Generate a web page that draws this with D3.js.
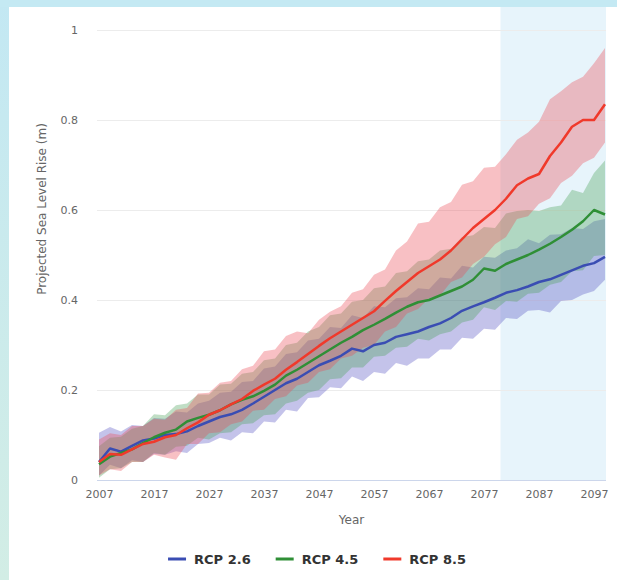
<!DOCTYPE html>
<html>
<head>
<meta charset="utf-8">
<script src="https://cdn.jsdelivr.net/npm/d3@7"></script>
<style>
  html, body { margin: 0; padding: 0; background: #fff; }
  svg { display: block; }
</style>
</head>
<body>
<div id="chart"></div>
<script>
"use strict";

// years, every second year
const years = d3.range(2007, 2100, 2);
const xTicks = [2007, 2017, 2027, 2037, 2047, 2057, 2067, 2077, 2087, 2097];
const yTicks = [0, 0.2, 0.4, 0.6, 0.8, 1];
const plotBand = [2080, 2099];

const rcp26 = [0.040,0.070,0.063,0.076,0.088,0.092,0.100,0.102,0.108,0.120,0.130,0.140,0.146,0.156,0.170,0.185,0.200,0.215,0.225,0.240,0.255,0.265,0.276,0.292,0.286,0.300,0.305,0.318,0.324,0.330,0.340,0.348,0.360,0.376,0.386,0.395,0.405,0.416,0.422,0.430,0.440,0.446,0.456,0.466,0.476,0.482,0.496];
const rcp26Hi = [0.105,0.118,0.108,0.122,0.120,0.138,0.136,0.152,0.150,0.170,0.176,0.194,0.196,0.218,0.220,0.248,0.252,0.280,0.284,0.310,0.314,0.340,0.338,0.366,0.360,0.386,0.384,0.404,0.406,0.426,0.424,0.450,0.448,0.476,0.472,0.496,0.494,0.510,0.515,0.535,0.526,0.545,0.546,0.560,0.558,0.575,0.580];
const rcp26Lo = [0.010,0.034,0.026,0.044,0.040,0.058,0.056,0.064,0.060,0.080,0.082,0.094,0.088,0.106,0.104,0.130,0.128,0.156,0.152,0.182,0.184,0.206,0.204,0.230,0.220,0.240,0.236,0.260,0.254,0.270,0.270,0.290,0.290,0.316,0.314,0.336,0.334,0.360,0.358,0.376,0.378,0.372,0.398,0.400,0.412,0.420,0.445];

const rcp45 = [0.035,0.052,0.060,0.068,0.082,0.095,0.105,0.112,0.130,0.138,0.145,0.155,0.168,0.178,0.186,0.198,0.212,0.232,0.245,0.260,0.275,0.290,0.305,0.318,0.333,0.345,0.358,0.372,0.385,0.395,0.400,0.410,0.420,0.430,0.445,0.470,0.465,0.480,0.490,0.500,0.512,0.525,0.540,0.556,0.575,0.600,0.590];
const rcp45Hi = [0.075,0.094,0.096,0.114,0.120,0.146,0.144,0.166,0.170,0.190,0.190,0.212,0.214,0.236,0.240,0.266,0.270,0.300,0.305,0.330,0.340,0.366,0.370,0.396,0.400,0.426,0.430,0.460,0.464,0.486,0.490,0.510,0.514,0.540,0.544,0.562,0.560,0.592,0.598,0.600,0.598,0.606,0.610,0.645,0.638,0.682,0.710];
const rcp45Lo = [0.005,0.024,0.026,0.040,0.040,0.060,0.056,0.074,0.076,0.094,0.090,0.104,0.106,0.124,0.126,0.144,0.146,0.170,0.176,0.194,0.200,0.224,0.226,0.250,0.250,0.274,0.276,0.294,0.296,0.314,0.310,0.324,0.330,0.350,0.356,0.384,0.378,0.398,0.396,0.414,0.416,0.434,0.440,0.464,0.466,0.498,0.500];

const rcp85 = [0.040,0.058,0.056,0.068,0.080,0.085,0.095,0.100,0.115,0.128,0.145,0.155,0.168,0.180,0.198,0.212,0.225,0.245,0.262,0.280,0.298,0.315,0.330,0.345,0.360,0.375,0.398,0.420,0.440,0.460,0.475,0.490,0.510,0.535,0.560,0.580,0.600,0.625,0.655,0.670,0.680,0.720,0.750,0.785,0.800,0.800,0.835];
const rcp85Hi = [0.090,0.104,0.100,0.120,0.120,0.136,0.134,0.156,0.160,0.192,0.194,0.216,0.220,0.246,0.254,0.286,0.290,0.320,0.330,0.326,0.356,0.374,0.386,0.416,0.424,0.456,0.468,0.510,0.530,0.570,0.574,0.606,0.618,0.656,0.664,0.694,0.696,0.724,0.756,0.772,0.796,0.846,0.864,0.884,0.896,0.926,0.960];
const rcp85Lo = [0.010,0.024,0.020,0.040,0.040,0.056,0.050,0.045,0.080,0.080,0.104,0.106,0.124,0.130,0.154,0.156,0.180,0.186,0.210,0.216,0.240,0.246,0.270,0.276,0.294,0.300,0.330,0.340,0.370,0.380,0.404,0.410,0.440,0.450,0.480,0.496,0.524,0.540,0.580,0.586,0.614,0.626,0.660,0.676,0.704,0.716,0.750];

const seriesNames = ["RCP 2.6", "RCP 4.5", "RCP 8.5"];
const lineColors = ["#3a4db3", "#2f8f36", "#f0392b"];
const bandColors = ["#5552c4", "#4aa05a", "#ec4a55"];

const W = 617, H = 580;

const svg = d3.select("#chart").append("svg")
  .attr("width", W)
  .attr("height", H)
  .style("font-family", "'DejaVu Sans', sans-serif");

// frame round the white panel
const defs = svg.append("defs");
const grad = defs.append("linearGradient")
  .attr("id", "sideGrad")
  .attr("x1", 0).attr("y1", 0).attr("x2", 0).attr("y2", 1);
grad.append("stop").attr("offset", "0%").attr("stop-color", "#c3e8f3");
grad.append("stop").attr("offset", "100%").attr("stop-color", "#d2ede5");
svg.append("rect").attr("width", W).attr("height", H).attr("fill", "#fff");
svg.append("rect").attr("x", 0).attr("y", 0).attr("width", 9).attr("height", H).attr("fill", "url(#sideGrad)");
svg.append("rect").attr("x", 0).attr("y", 0).attr("width", W).attr("height", 7).attr("fill", "#c4e9f3");

const x = d3.scaleLinear()
  .domain([2007, 2099])
  .range([99, 605]);
const y = d3.scaleLinear()
  .domain([0, 1])
  .range([480, 30]);

const plotLeft = 97, plotRight = 606;

// plot band
svg.append("rect")
  .attr("x", x(plotBand[0]))
  .attr("y", 7)
  .attr("width", plotRight - x(plotBand[0]))
  .attr("height", y(0) - 7)
  .attr("fill", "#e7f4fb");

// grid lines
svg.append("g")
  .selectAll("line")
  .data(yTicks.filter(d => d > 0))
  .join("line")
  .attr("x1", plotLeft)
  .attr("x2", plotRight)
  .attr("y1", d => y(d) + 0.5)
  .attr("y2", d => y(d) + 0.5)
  .attr("stroke", "#ececec")
  .attr("stroke-width", 1);

// y axis labels
const yAxis = d3.axisLeft(y)
  .tickValues(yTicks)
  .tickFormat(d3.format("~g"))
  .tickSize(0)
  .tickPadding(0);
const gy = svg.append("g")
  .attr("transform", "translate(78,0)")
  .call(yAxis);
gy.select(".domain").remove();
gy.selectAll("text")
  .attr("fill", "#666")
  .style("font-size", "11px")
  .style("font-family", "'DejaVu Sans', sans-serif");

// series bands and lines
const sets = [
  { mean: rcp26, hi: rcp26Hi, lo: rcp26Lo },
  { mean: rcp45, hi: rcp45Hi, lo: rcp45Lo },
  { mean: rcp85, hi: rcp85Hi, lo: rcp85Lo }
];

const area = d3.area()
  .x(d => x(d.year))
  .y0(d => y(d.lo))
  .y1(d => y(d.hi));
const line = d3.line()
  .x(d => x(d.year))
  .y(d => y(d.v));

sets.forEach((s, k) => {
  const rows = years.map((yr, i) => ({ year: yr, v: s.mean[i], hi: s.hi[i], lo: s.lo[i] }));
  svg.append("path")
    .datum(rows)
    .attr("d", area)
    .attr("fill", bandColors[k])
    .attr("fill-opacity", 0.35);
});
sets.forEach((s, k) => {
  const rows = years.map((yr, i) => ({ year: yr, v: s.mean[i] }));
  svg.append("path")
    .datum(rows)
    .attr("d", line)
    .attr("fill", "none")
    .attr("stroke", lineColors[k])
    .attr("stroke-width", 2.5)
    .attr("stroke-linejoin", "round");
});

// x axis
const xAxis = d3.axisBottom(x)
  .tickValues(xTicks)
  .tickFormat(d3.format("d"))
  .tickSize(0)
  .tickPadding(10);
const gx = svg.append("g")
  .attr("transform", "translate(0," + y(0) + ")")
  .call(xAxis);
gx.select(".domain").remove();
gx.selectAll("text")
  .attr("fill", "#666")
  .style("font-size", "11px")
  .style("font-family", "'DejaVu Sans', sans-serif");
svg.append("line")
  .attr("x1", plotLeft).attr("x2", plotRight)
  .attr("y1", y(0) + 0.5).attr("y2", y(0) + 0.5)
  .attr("stroke", "#ccd6eb");

// axis titles
svg.append("text")
  .attr("x", (plotLeft + plotRight) / 2)
  .attr("y", 524)
  .attr("text-anchor", "middle")
  .attr("fill", "#666")
  .style("font-size", "12px")
  .text("Year");
svg.append("text")
  .attr("transform", "translate(46,209) rotate(-90)")
  .attr("text-anchor", "middle")
  .attr("fill", "#666")
  .style("font-size", "12px")
  .text("Projected Sea Level Rise (m)");

// legend
const legend = svg.append("g").attr("transform", "translate(0,559)");
const items = legend.selectAll("g")
  .data(seriesNames)
  .join("g");
items.append("line")
  .attr("x1", 0).attr("x2", 18)
  .attr("y1", 0).attr("y2", 0)
  .attr("stroke", (d, i) => lineColors[i])
  .attr("stroke-width", 3);
items.append("text")
  .attr("x", 26)
  .attr("y", 5)
  .attr("fill", "#333")
  .style("font-size", "13px")
  .style("font-weight", "bold")
  .text(d => d);
let widths = [];
items.each(function () {
  widths.push(26 + d3.select(this).select("text").node().getComputedTextLength());
});
const gap = 25;
const total = d3.sum(widths) + gap * (widths.length - 1);
let cx = 317 - total / 2;
items.attr("transform", (d, i) => {
  const t = "translate(" + cx + ",0)";
  cx += widths[i] + gap;
  return t;
});
</script>
</body>
</html>
